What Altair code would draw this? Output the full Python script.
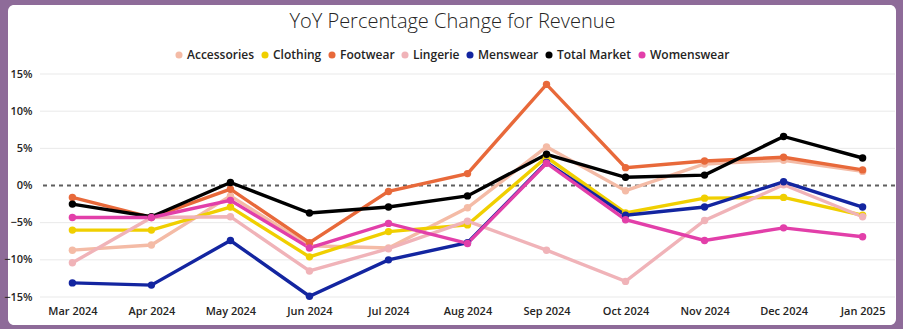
import altair as alt
import pandas as pd

months = ["Mar 2024", "Apr 2024", "May 2024", "Jun 2024", "Jul 2024", "Aug 2024",
          "Sep 2024", "Oct 2024", "Nov 2024", "Dec 2024", "Jan 2025"]

series_names = ["Accessories", "Clothing", "Footwear", "Lingerie", "Menswear",
                "Total Market", "Womenswear"]

accessories = [-8.7, -8.0, -1.4, -8.1, -8.4, -3.0, 5.2, -0.7, 2.9, 3.4, 1.9]
clothing = [-6.0, -6.0, -2.9, -9.6, -6.2, -5.3, 3.8, -3.7, -1.7, -1.6, -4.0]
footwear = [-1.6, -4.3, -0.5, -7.7, -0.8, 1.6, 13.6, 2.4, 3.3, 3.8, 2.1]
lingerie = [-10.4, -4.3, -4.2, -11.5, -8.5, -4.8, -8.7, -12.9, -4.7, 0.1, -4.2]
menswear = [-13.1, -13.4, -7.4, -14.9, -10.0, -7.7, 3.1, -4.0, -2.9, 0.5, -2.9]
total_market = [-2.5, -4.2, 0.4, -3.7, -2.9, -1.4, 4.2, 1.1, 1.4, 6.6, 3.7]
womenswear = [-4.3, -4.3, -2.0, -8.4, -5.1, -7.8, 3.0, -4.6, -7.4, -5.7, -6.9]

colors = ["#F4BBA6", "#F0CF00", "#E8693A", "#F0B3B8", "#1325A0", "#000000", "#E23FA9"]

y_ticks = [-15, -10, -5, 0, 5, 10, 15]

values = [accessories, clothing, footwear, lingerie, menswear, total_market, womenswear]
rows = []
for name, vals in zip(series_names, values):
    for m, v in zip(months, vals):
        rows.append({"Month": m, "Series": name, "Value": v / 100.0})
df = pd.DataFrame(rows)
grid_df = pd.DataFrame({"Value": [v / 100 for v in y_ticks if v != 0]})

FONT = "Open Sans"

x_enc = alt.X("Month:N", sort=months,
              scale=alt.Scale(type="point", padding=0.41),
              axis=alt.Axis(title=None, labelAngle=0, ticks=False, domain=False,
                            grid=False, labelFont=FONT, labelFontWeight=600,
                            labelFontSize=11, labelColor="#252423", labelPadding=8,
                            labelOverlap=False, zindex=1))
y_scale = alt.Scale(domain=[-0.15, 0.15], nice=False)
y_axis = alt.Axis(title=None, values=[v / 100 for v in y_ticks], format=".0%",
                  ticks=False, domain=False, grid=False,
                  labelFont=FONT, labelFontWeight=600,
                  labelFontSize=11, labelColor="#252423", labelPadding=8,
                  labelOverlap=False, labelBound=False, zindex=1)
y_enc = alt.Y("Value:Q", scale=y_scale, axis=y_axis)
color_enc = alt.Color("Series:N",
                      scale=alt.Scale(domain=series_names, range=colors),
                      legend=alt.Legend(title=None, orient="none", direction="horizontal",
                                        legendX=133, legendY=-25,
                                        symbolType="circle", symbolSize=50,
                                        symbolStrokeWidth=0, labelFont=FONT,
                                        labelFontWeight=600, labelFontSize=12,
                                        labelColor="#252423", columnPadding=4,
                                        labelOffset=2))

card = alt.Chart(pd.DataFrame({"a": [0]})).mark_rect(
    color="white", cornerRadius=6, clip=False
).encode(x=alt.value(-32), x2=alt.value(856), y=alt.value(-69), y2=alt.value(251))

grid = alt.Chart(grid_df).mark_rule(color="#E9E9E9", strokeWidth=1).encode(
    y=y_enc
)

zero = alt.Chart(pd.DataFrame({"a": [0]})).mark_rule(
    color="#5E5E5E", strokeDash=[4, 4], strokeWidth=2
).encode(y=alt.YDatum(0, scale=y_scale, axis=y_axis))

lines = alt.Chart(df).mark_line(strokeWidth=3.4).encode(
    x=x_enc, y=y_enc, color=color_enc
)
points = alt.Chart(df).mark_circle(size=55, opacity=1).encode(
    x=x_enc, y=y_enc, color=color_enc
)

chart = alt.layer(card, grid, zero, lines, points).properties(
    width=855, height=223,
    background="#8E6B99",
    padding={"left": 40, "top": 74, "right": 8, "bottom": 32},
    autosize=alt.AutoSizeParams(type="none"),
    title=alt.TitleParams("YoY Percentage Change for Revenue", font=FONT,
                          fontWeight=300, fontSize=20, color="#252423",
                          anchor="middle", dx=-15, offset=-27),
).configure_view(stroke=None).configure_axis(labelOverlap=False)

chart.save("out.html", embed_options={"renderer": "svg", "actions": False})
